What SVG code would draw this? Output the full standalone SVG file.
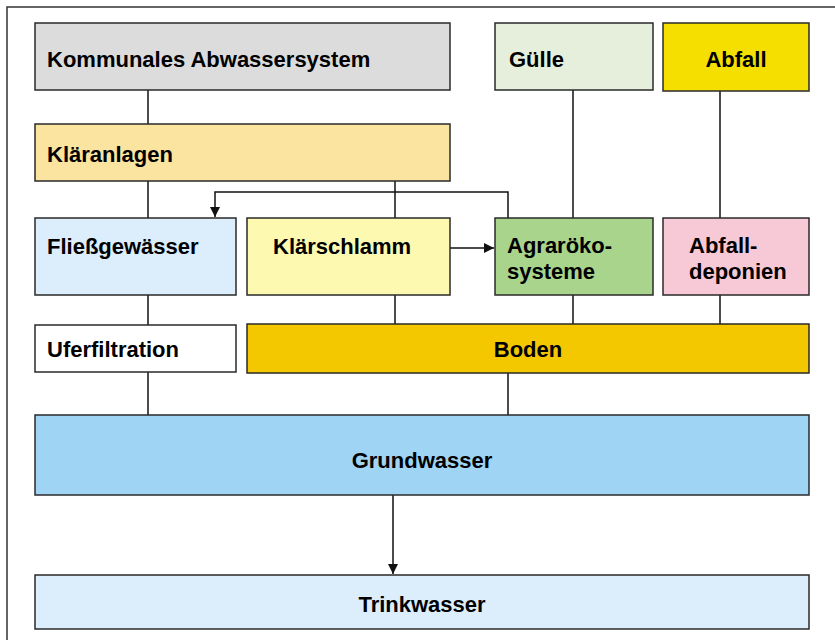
<svg xmlns="http://www.w3.org/2000/svg" width="835" height="640" viewBox="0 0 835 640">
<defs>
<style>
.box{stroke:#2a2a2a;stroke-width:1.5}
.t{font-family:"Liberation Sans",Arial,Helvetica,sans-serif;font-weight:bold;font-size:22px;fill:#000}
.c{text-anchor:middle}
.ln{stroke:#111;stroke-width:1.5;fill:none}
</style>
<marker id="ah" viewBox="0 0 10 10" refX="10" refY="5" markerWidth="10" markerHeight="10" markerUnits="userSpaceOnUse" orient="auto">
<path d="M0,0 L10,5 L0,10 z" fill="#111"/>
</marker>
</defs>
<rect width="835" height="640" fill="#fff"/>
<rect x="7" y="7" width="850" height="650" fill="none" stroke="#333" stroke-width="1.5"/>
<g id="connectors">
<line class="ln" x1="148" y1="90" x2="148" y2="124"/>
<line class="ln" x1="148" y1="181" x2="148" y2="218"/>
<line class="ln" x1="148" y1="295" x2="148" y2="325"/>
<line class="ln" x1="148" y1="372" x2="148" y2="415"/>
<line class="ln" x1="395" y1="181" x2="395" y2="218"/>
<line class="ln" x1="395" y1="295" x2="395" y2="324"/>
<path class="ln" d="M508,218 V192 H215 V217" marker-end="url(#ah)"/>
<line class="ln" x1="450" y1="248" x2="494" y2="248" marker-end="url(#ah)"/>
<line class="ln" x1="573" y1="90" x2="573" y2="218"/>
<line class="ln" x1="573" y1="295" x2="573" y2="324"/>
<line class="ln" x1="720" y1="91" x2="720" y2="218"/>
<line class="ln" x1="720" y1="295" x2="720" y2="324"/>
<line class="ln" x1="508" y1="373" x2="508" y2="415"/>
<line class="ln" x1="393" y1="495" x2="393" y2="574" marker-end="url(#ah)"/>
</g>
<g id="kommunales"><rect class="box" x="35" y="23" width="415" height="67" fill="#dcdcdc"/><text class="t" x="47" y="67">Kommunales Abwassersystem</text></g>
<g id="guelle"><rect class="box" x="495" y="23" width="158" height="67" fill="#e6efdc"/><text class="t" x="509" y="67">Gülle</text></g>
<g id="abfall"><rect class="box" x="663" y="23" width="146" height="68" fill="#f5df00"/><text class="t c" x="736" y="67">Abfall</text></g>
<g id="klaeranlagen"><rect class="box" x="35" y="124" width="415" height="57" fill="#fbe3a0"/><text class="t" x="47" y="162">Kläranlagen</text></g>
<g id="fliessgewaesser"><rect class="box" x="35" y="218" width="201" height="77" fill="#dcedfb"/><text class="t" x="47" y="254">Fließgewässer</text></g>
<g id="klaerschlamm"><rect class="box" x="247" y="218" width="203" height="77" fill="#fef9b0"/><text class="t" x="273" y="254">Klärschlamm</text></g>
<g id="agraroeko"><rect class="box" x="495" y="218" width="158" height="77" fill="#a8d48c"/><text class="t" x="507" y="253">Agraröko-</text><text class="t" x="507" y="279">systeme</text></g>
<g id="abfalldeponien"><rect class="box" x="663" y="218" width="146" height="77" fill="#f7c8d6"/><text class="t" x="689" y="253">Abfall-</text><text class="t" x="689" y="279">deponien</text></g>
<g id="uferfiltration"><rect class="box" x="35" y="325" width="201" height="47" fill="#ffffff"/><text class="t" x="47" y="357">Uferfiltration</text></g>
<g id="boden"><rect class="box" x="247" y="324" width="562" height="49" fill="#f3c800"/><text class="t c" x="528" y="357">Boden</text></g>
<g id="grundwasser"><rect class="box" x="35" y="415" width="774" height="80" fill="#a0d4f4"/><text class="t c" x="422" y="468">Grundwasser</text></g>
<g id="trinkwasser"><rect class="box" x="35" y="575" width="774" height="54" fill="#dcedfb"/><text class="t c" x="422" y="612">Trinkwasser</text></g>
</svg>
